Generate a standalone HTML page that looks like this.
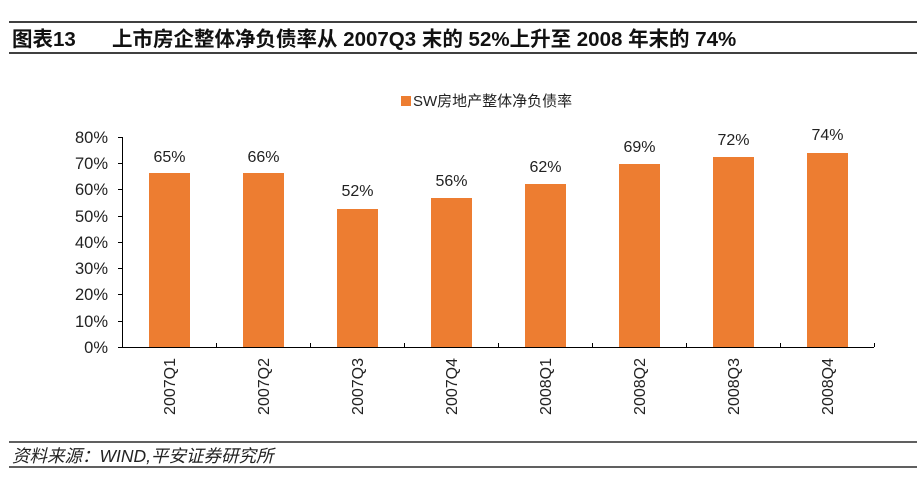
<!DOCTYPE html>
<html><head><meta charset="utf-8"><style>
body{margin:0;background:#fff;width:917px;height:479px;overflow:hidden}
</style></head><body>
<svg width="917" height="479" xmlns="http://www.w3.org/2000/svg" font-family="Liberation Sans, Noto Sans CJK SC, sans-serif">
<line x1="9" y1="22" x2="917" y2="22" stroke="#000" stroke-width="1.5"/>
<line x1="9" y1="53" x2="917" y2="53" stroke="#000" stroke-width="1.5"/>
<text x="12" y="46" font-size="20.5" font-weight="bold" fill="#111">图表13</text>
<text x="112" y="46" font-size="20.5" font-weight="bold" fill="#111">上市房企整体净负债率从 2007Q3 末的 52%上升至 2008 年末的 74%</text>
<rect x="401" y="96" width="10" height="10" fill="#ED7D31"/>
<text x="413" y="106" font-size="15" fill="#222">SW房地产整体净负债率</text>
<g font-size="16.5" fill="#222" text-anchor="end">
<text x="108" y="353">0%</text><text x="108" y="327">10%</text><text x="108" y="300">20%</text><text x="108" y="274">30%</text><text x="108" y="248">40%</text><text x="108" y="222">50%</text><text x="108" y="195">60%</text><text x="108" y="169">70%</text><text x="108" y="143">80%</text>
</g>
<g stroke="#000" stroke-width="1">
<line x1="122.5" y1="137" x2="122.5" y2="347"/>
<line x1="122" y1="347.5" x2="874" y2="347.5"/>
<line x1="118" y1="137.5" x2="122" y2="137.5"/>
<line x1="118" y1="163.5" x2="122" y2="163.5"/>
<line x1="118" y1="189.5" x2="122" y2="189.5"/>
<line x1="118" y1="216.5" x2="122" y2="216.5"/>
<line x1="118" y1="242.5" x2="122" y2="242.5"/>
<line x1="118" y1="268.5" x2="122" y2="268.5"/>
<line x1="118" y1="294.5" x2="122" y2="294.5"/>
<line x1="118" y1="321.5" x2="122" y2="321.5"/>
<line x1="118" y1="347.5" x2="122" y2="347.5"/>
<line x1="216.5" y1="343" x2="216.5" y2="347"/><line x1="310.5" y1="343" x2="310.5" y2="347"/><line x1="404.5" y1="343" x2="404.5" y2="347"/><line x1="498.5" y1="343" x2="498.5" y2="347"/><line x1="592.5" y1="343" x2="592.5" y2="347"/><line x1="686.5" y1="343" x2="686.5" y2="347"/><line x1="780.5" y1="343" x2="780.5" y2="347"/><line x1="874.5" y1="343" x2="874.5" y2="347"/>
</g>
<g fill="#ED7D31">
<rect x="149" y="173" width="41" height="174"/>
<rect x="243" y="173" width="41" height="174"/>
<rect x="337" y="209" width="41" height="138"/>
<rect x="431" y="198" width="41" height="149"/>
<rect x="525" y="184" width="41" height="163"/>
<rect x="619" y="164" width="41" height="183"/>
<rect x="713" y="157" width="41" height="190"/>
<rect x="807" y="153" width="41" height="194"/>
</g>
<g font-size="16" fill="#222" text-anchor="middle">
<text x="169.5" y="162">65%</text><text x="263.5" y="162">66%</text><text x="357.5" y="196">52%</text><text x="451.5" y="186">56%</text><text x="545.5" y="172">62%</text><text x="639.5" y="152">69%</text><text x="733.5" y="145">72%</text><text x="827.5" y="140">74%</text>
</g>
<g font-size="16" fill="#222" text-anchor="end">
<text transform="translate(175,358) rotate(-90)">2007Q1</text>
<text transform="translate(269,358) rotate(-90)">2007Q2</text>
<text transform="translate(363,358) rotate(-90)">2007Q3</text>
<text transform="translate(457,358) rotate(-90)">2007Q4</text>
<text transform="translate(551,358) rotate(-90)">2008Q1</text>
<text transform="translate(645,358) rotate(-90)">2008Q2</text>
<text transform="translate(739,358) rotate(-90)">2008Q3</text>
<text transform="translate(833,358) rotate(-90)">2008Q4</text>
</g>
<line x1="9" y1="442" x2="917" y2="442" stroke="#000" stroke-width="1.2"/>
<line x1="9" y1="467" x2="917" y2="467" stroke="#000" stroke-width="1.2"/>
<text x="12" y="462" font-size="17.5" font-style="italic" fill="#222">资料来源：WIND,平安证券研究所</text>
</svg>
</body></html>
